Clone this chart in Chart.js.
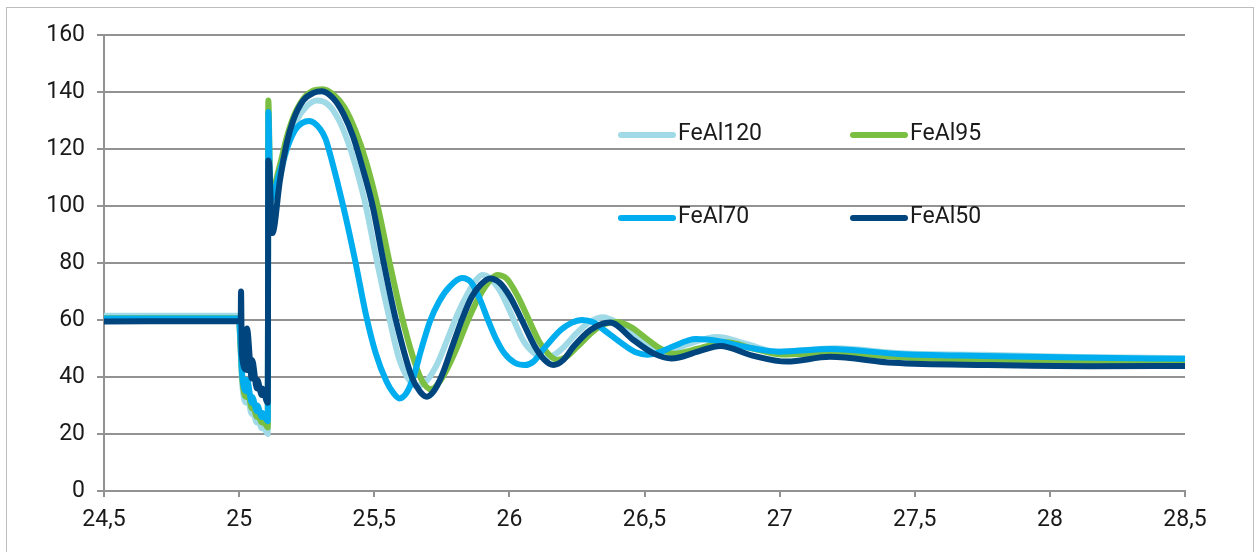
<!DOCTYPE html>
<html>
<head>
<meta charset="utf-8">
<script src="https://cdn.jsdelivr.net/npm/chart.js@4"></script>
<style>
  html, body { margin: 0; padding: 0; background: #fff; }
  #wrap { position: relative; width: 1254px; height: 552px; }
  #frame { position: absolute; left: 6px; top: 7px; width: 1246px; height: 560px; border: 1px solid #bdbdbd; pointer-events: none; }
</style>
</head>
<body>
<div id="wrap">
  <canvas id="chart" width="1254" height="552"></canvas>
  <div id="frame"></div>
</div>
<script>
// time axis (s) and tick values
const xTicks = [24.5, 25, 25.5, 26, 26.5, 27, 27.5, 28, 28.5];
const yTicks = [0, 20, 40, 60, 80, 100, 120, 140, 160];

const seriesNames = ['FeAl120', 'FeAl95', 'FeAl70', 'FeAl50'];

const feal120Time = [24.5, 25.0, 25.003, 25.012, 25.028, 25.029, 25.047, 25.048, 25.066, 25.067, 25.084, 25.085, 25.106,
  25.108, 25.116, 25.15, 25.18, 25.21, 25.25, 25.288, 25.33, 25.37, 25.41, 25.44, 25.469, 25.509, 25.555, 25.59,
  25.625, 25.655, 25.69, 25.73, 25.77, 25.81, 25.85, 25.875, 25.899, 25.93, 25.97, 26.0, 26.05, 26.09, 26.139,
  26.19, 26.25, 26.3, 26.346, 26.4, 26.45, 26.5, 26.557, 26.6, 26.66, 26.77, 26.88, 26.99, 27.1, 27.21, 27.45,
  27.75, 28.1, 28.5];
const feal120 = [61.5, 61.5, 55, 37, 31, 34, 27, 29, 24, 26, 22, 23.5, 20,
  117, 100, 110, 121, 129.5, 135, 137, 135.5, 130, 120.5, 111, 100, 81, 61, 47,
  39.5, 36.8, 38.3, 44, 53, 62.5, 70, 73.8, 75.8, 74.5, 69.5, 63.5, 53, 48.5, 46.7,
  49.5, 55.5, 59.5, 61, 59, 55.5, 51.5, 48.6, 49.2, 51.5, 54, 51.5, 48.9, 49.5, 50.1, 48.3,
  47.8, 47, 46.6];

const feal95Time = [24.5, 25.0, 25.003, 25.012, 25.028, 25.029, 25.047, 25.048, 25.066, 25.067, 25.084, 25.085, 25.106,
  25.108, 25.116, 25.15, 25.176, 25.2, 25.237, 25.275, 25.31, 25.35, 25.39, 25.43, 25.47, 25.515, 25.556, 25.6,
  25.64, 25.675, 25.71, 25.75, 25.8, 25.847, 25.89, 25.925, 25.954, 25.99, 26.03, 26.07, 26.11, 26.14, 26.176,
  26.21, 26.25, 26.31, 26.35, 26.398, 26.45, 26.5, 26.55, 26.61, 26.7, 26.805, 26.9, 27.01, 27.2, 27.5, 27.8,
  28.1, 28.5];
const feal95 = [60.6, 60.6, 55, 39, 33, 37, 29, 31, 26, 28, 24, 25.5, 22.3,
  137, 104, 114, 124, 131, 137.5, 140.5, 141, 139, 134.5, 126.5, 115.5, 99, 80.5, 62,
  48, 39, 35.7, 39.5, 49, 60, 68.5, 73.5, 75.8, 74.5, 68.5, 60.5, 52.5, 48.5, 46,
  47, 50.5, 56, 58.5, 59.3, 57.5, 54, 50.5, 48.2, 50, 52.2, 50, 47.9, 48.4, 46.7, 46,
  45.6, 45.3];

const feal70Time = [24.5, 25.0, 25.003, 25.012, 25.028, 25.029, 25.047, 25.048, 25.066, 25.067, 25.084, 25.085, 25.106,
  25.108, 25.116, 25.15, 25.18, 25.21, 25.259, 25.3, 25.32, 25.34, 25.385, 25.429, 25.469, 25.505, 25.545, 25.57,
  25.593, 25.62, 25.645, 25.675, 25.706, 25.74, 25.78, 25.825, 25.86, 25.89, 25.921, 25.95, 25.98, 26.02, 26.058,
  26.09, 26.124, 26.19, 26.23, 26.269, 26.31, 26.35, 26.435, 26.47, 26.51, 26.56, 26.6, 26.69, 26.78, 26.85, 27.0,
  27.19, 27.44, 27.75, 28.1, 28.5];
const feal70 = [60.5, 60.5, 56, 40, 35, 39, 31, 33, 28, 30, 26, 27.5, 24.5,
  133, 102, 112, 121, 127, 129.8, 127, 123.5, 117, 100, 81, 62, 48.5, 38.5, 34.5,
  32.5, 34.5, 40, 50, 59.5, 66.5, 71.8, 74.7, 73, 67.5, 60, 53.5, 48.5, 45, 44.2,
  45.5, 49.5, 56.5, 59, 60, 59.2, 56.5, 50.5, 48.6, 47.8, 48.8, 50.5, 53.3, 52.5, 51, 48.9,
  49.8, 48.1, 47.4, 46.8, 46.4];

const feal50Time = [24.5, 25.0, 25.006, 25.007, 25.010, 25.028, 25.029, 25.047, 25.048, 25.066, 25.067, 25.084, 25.085,
  25.106, 25.108, 25.111, 25.123, 25.151, 25.176, 25.2, 25.237, 25.275, 25.306, 25.348, 25.385, 25.422, 25.459,
  25.494, 25.533, 25.58, 25.639, 25.67, 25.694, 25.72, 25.75, 25.786, 25.824, 25.86, 25.895, 25.928, 25.965,
  26.002, 26.046, 26.095, 26.13, 26.163, 26.2, 26.237, 26.3, 26.372, 26.459, 26.533, 26.6, 26.7, 26.78, 26.9,
  27.027, 27.186, 27.42, 27.77, 28.14, 28.5];
const feal50 = [59.5, 59.6, 59.6, 70, 48, 42.5, 57, 39.5, 46, 36, 39, 33.7, 36,
  31, 116, 115, 90.5, 109, 122, 130, 137, 139.7, 140.3, 137.8, 132.5, 124.3, 112.6,
  100, 81, 60, 40, 34.8, 33.1, 35, 40.5, 50, 60, 68, 72.5, 74.6, 73,
  68.2, 60, 50.6, 46, 44.2, 46, 50.6, 56.5, 59.1, 53, 48.3, 46.5, 49, 50.9, 47.5,
  45.4, 47.1, 45, 44.2, 43.8, 43.9];

const colors = ['#a0dae6', '#7bbf42', '#00adee', '#00457e'];
const gridColor = '#929292';
const font = { family: 'Roboto', size: 23 };

const toPoints = (times, values) => times.map((t, i) => ({ x: t, y: values[i] }));
const seriesData = [
  toPoints(feal120Time, feal120),
  toPoints(feal95Time, feal95),
  toPoints(feal70Time, feal70),
  toPoints(feal50Time, feal50)
];

// legend sits inside the plot, two rows of two
const legendSpots = [[621, 135], [853, 135], [621, 218], [853, 218]];
const insideLegend = {
  id: 'insideLegend',
  afterDatasetsDraw(chart) {
    const ctx = chart.ctx;
    ctx.save();
    ctx.font = `${font.size}px ${font.family}`;
    ctx.textBaseline = 'middle';
    ctx.lineCap = 'round';
    seriesNames.forEach((name, i) => {
      const [x, y] = legendSpots[i];
      ctx.strokeStyle = colors[i];
      ctx.lineWidth = 6;
      ctx.beginPath();
      ctx.moveTo(x, y);
      ctx.lineTo(x + 52, y);
      ctx.stroke();
      ctx.fillStyle = '#1a1a1a';
      ctx.fillText(name, x + 57, y - 1);
    });
    ctx.restore();
  }
};

new Chart(document.getElementById('chart').getContext('2d'), {
  type: 'line',
  data: {
    datasets: seriesNames.map((name, i) => ({
      label: name,
      data: seriesData[i],
      borderColor: colors[i],
      backgroundColor: colors[i],
      borderWidth: 6,
      pointRadius: 0,
      cubicInterpolationMode: 'monotone',
      borderCapStyle: 'round',
      borderJoinStyle: 'round',
      order: seriesNames.length - 1 - i
    }))
  },
  options: {
    responsive: false,
    animation: false,
    layout: { padding: { top: 35, right: 69, left: 0, bottom: 0 } },
    plugins: { legend: { display: false }, tooltip: { enabled: false } },
    scales: {
      x: {
        type: 'linear',
        min: 24.5,
        max: 28.5,
        afterFit: s => { s.height = 61; },
        afterBuildTicks: s => { s.ticks = xTicks.map(v => ({ value: v })); },
        grid: { drawOnChartArea: false, color: gridColor, lineWidth: 2, tickLength: 6 },
        border: { color: gridColor, width: 2 },
        ticks: {
          autoSkip: false,
          maxRotation: 0,
          padding: 9,
          color: '#1a1a1a',
          font: font,
          callback: v => String(v).replace('.', ',')
        }
      },
      y: {
        min: 0,
        max: 160,
        afterFit: s => { s.width = 104; },
        afterBuildTicks: s => { s.ticks = yTicks.map(v => ({ value: v })); },
        grid: { color: gridColor, lineWidth: 2, tickLength: 7 },
        border: { color: gridColor, width: 2 },
        ticks: { padding: 12, color: '#1a1a1a', font: font }
      }
    }
  },
  plugins: [insideLegend]
});
</script>
</body>
</html>
